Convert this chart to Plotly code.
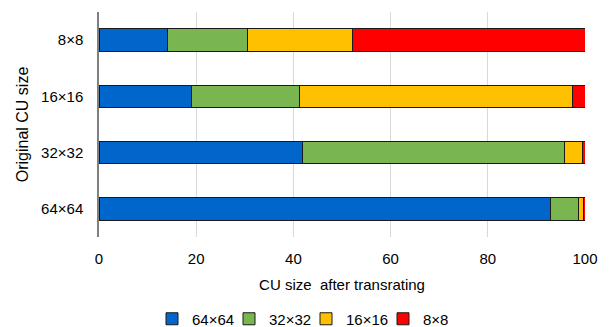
import plotly.graph_objects as go

categories = ["64×64", "32×32", "16×16", "8×8"]
series_names = ["64×64", "32×32", "16×16", "8×8"]
v64 = [93.0, 41.8, 19.0, 14.0]
v32 = [5.6, 53.9, 22.3, 16.6]
v16 = [1.05, 3.7, 56.1, 21.5]
v8 = [0.35, 0.6, 2.6, 47.9]
colors = ["#0066CC", "#7AB650", "#FFC000", "#FF0000"]
x_ticks = [0, 20, 40, 60, 80, 100]

fig = go.Figure()
for name, vals, col in zip(series_names, [v64, v32, v16, v8], colors):
    fig.add_trace(go.Bar(
        y=categories, x=vals, name=name, orientation="h",
        marker=dict(color=col, line=dict(color="#1a1a1a", width=1)),
        width=0.4,
    ))

font_family = "Liberation Sans, Arial, sans-serif"
fig.update_layout(
    barmode="stack",
    width=612, height=327,
    margin=dict(l=99, r=27, t=12, b=86),
    paper_bgcolor="white", plot_bgcolor="white",
    font=dict(family=font_family, size=15, color="#000000"),
    showlegend=True,
    legend=dict(orientation="h", xref="container", yref="container",
                x=0.5, xanchor="center", y=1 - 319 / 327, yanchor="middle",
                font=dict(size=15), traceorder="normal",
                itemwidth=30, tracegroupgap=0, entrywidth=32),
    xaxis=dict(range=[0, 100], tickvals=x_ticks, showgrid=True,
               gridcolor="#d9d9d9", gridwidth=1, zeroline=False,
               showline=False, ticks="", tickfont=dict(size=15),
               ticklabelstandoff=11,
               title=dict(text="CU size  after transrating", font=dict(size=15), standoff=13),
               fixedrange=True),
    yaxis=dict(categoryorder="array", categoryarray=categories,
               showline=True, linecolor="#808080", linewidth=1.5,
               showgrid=False, ticks="", ticklabelstandoff=11,
               tickfont=dict(size=15),
               title=dict(text="Original CU size", font=dict(size=16), standoff=9)),
)
fig.write_html("out.html", post_script="document.body.style.margin='0';",
               config={"displayModeBar": False})
